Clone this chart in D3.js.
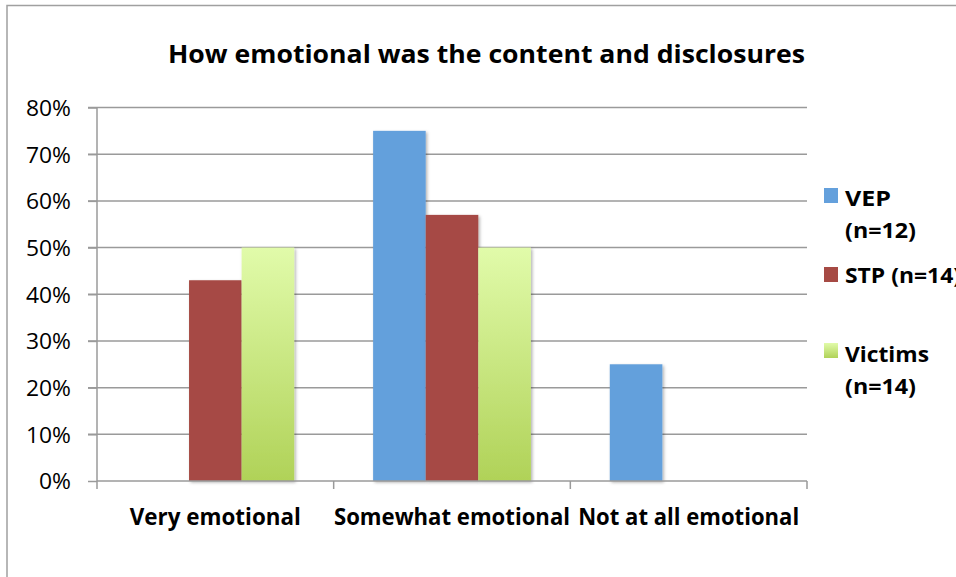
<!DOCTYPE html>
<html><head><meta charset="utf-8">
<script src="https://cdn.jsdelivr.net/npm/d3@7/dist/d3.min.js"></script>
<style>body{margin:0;background:#fff}svg{display:block}</style>
</head><body>
<svg id="c" width="956" height="577"></svg>
<script>
const categories = ["Very emotional", "Somewhat emotional", "Not at all emotional"];
const seriesNames = ["VEP", "STP", "Victims"];
const legendLines = [["VEP", "(n=12)"], ["STP (n=14)"], ["Victims", "(n=14)"]];
const vep = [0, 75, 25];
const stp = [43, 57, 0];
const victims = [50, 50, 0];
const yTicks = [0, 10, 20, 30, 40, 50, 60, 70, 80];
const title = "How emotional was the content and disclosures";

const svg = d3.select("#c");
const font = "'Open Sans', sans-serif";
const L = 97, R = 807, T = 107.5, B = 481;

const defs = svg.append("defs");
const g = defs.append("linearGradient").attr("id","gv").attr("x1",0).attr("y1",0).attr("x2",0).attr("y2",1);
g.append("stop").attr("offset","0%").attr("stop-color","#e1fbaa");
g.append("stop").attr("offset","100%").attr("stop-color","#b0d258");
const f = defs.append("filter").attr("id","sh").attr("x","-10%").attr("y","-10%").attr("width","130%").attr("height","120%");
f.append("feDropShadow").attr("dx",1.5).attr("dy",1.5).attr("stdDeviation",1.5).attr("flood-color","#000").attr("flood-opacity",0.3);

// chart border
svg.append("rect").attr("x",7).attr("y",5.5).attr("width",1000).attr("height",1000)
  .attr("fill","none").attr("stroke","#a0a0a0").attr("stroke-width",1.5);

const x = d3.scaleBand().domain(categories).range([L, R]).paddingInner(0).paddingOuter(0);
const y = d3.scaleLinear().domain([0, 80]).range([B, T]);

// gridlines
svg.append("g").selectAll("line").data(yTicks.filter(d => d > 0)).join("line")
  .attr("x1", L - 9).attr("x2", R).attr("y1", d => y(d)).attr("y2", d => y(d))
  .attr("stroke","#9a9a9a").attr("stroke-width",1.5);

// bars
const inner = d3.scaleBand().domain(seriesNames).range([0, x.bandwidth()]).paddingOuter(0.75).paddingInner(0);
const colors = {VEP:"#64a0dc", STP:"#a64a44", Victims:"url(#gv)"};
const data = {VEP: vep, STP: stp, Victims: victims};
const bars = [];
categories.forEach((c, i) => seriesNames.forEach(s => { if (data[s][i] > 0) bars.push({c, s, v: data[s][i]}); }));
svg.append("g").selectAll("rect").data(bars).join("rect")
  .attr("x", d => x(d.c) + inner(d.s)).attr("width", inner.bandwidth())
  .attr("y", d => y(d.v)).attr("height", d => y(0) - y(d.v))
  .attr("fill", d => colors[d.s]).attr("filter","url(#sh)");

// y axis
const ya = svg.append("g").attr("transform",`translate(${L},0)`)
  .call(d3.axisLeft(y).tickValues(yTicks).tickSize(9).tickPadding(17).tickFormat(d => d + "%"));
ya.select(".domain").attr("stroke","#9a9a9a").attr("stroke-width",1.5).attr("d",`M0,${T}V${B}`);
ya.selectAll(".tick line").attr("stroke","#9a9a9a").attr("stroke-width",1.5);
ya.selectAll(".tick text").attr("font-family",font).attr("font-size",22).attr("fill","#000")
  .attr("dy","0.36em").attr("textLength",function(){return this.textContent.length===2?32:45;})
  .attr("lengthAdjust","spacingAndGlyphs");

// x axis
const xa = svg.append("g").attr("transform",`translate(0,${B})`);
xa.append("line").attr("x1",L).attr("x2",R).attr("stroke","#9a9a9a").attr("stroke-width",1.5);
xa.selectAll(".tk").data(categories.concat([null])).join("line")
  .attr("x1",(d,i)=> i < categories.length ? x(d) : R).attr("x2",(d,i)=> i < categories.length ? x(d) : R)
  .attr("y1",0).attr("y2",8).attr("stroke","#9a9a9a").attr("stroke-width",1.5);
const labelW = [171, 236, 221];
xa.selectAll("text").data(categories).join("text")
  .attr("x", d => x(d) + x.bandwidth()/2).attr("y", 44).attr("text-anchor","middle")
  .attr("font-family",font).attr("font-weight","bold").attr("font-size",22.5)
  .attr("textLength",(d,i)=>labelW[i]).attr("lengthAdjust","spacingAndGlyphs")
  .text(d => d);

// title
svg.append("text").attr("x",486.5).attr("y",63).attr("text-anchor","middle")
  .attr("font-family",font).attr("font-weight","bold").attr("font-size",25.5)
  .attr("textLength",637).attr("lengthAdjust","spacingAndGlyphs").text(title);

// legend
const legY = [188, 267, 343];
const legBase = [[206, 238], [283], [362, 394]];
const legW = [[46, 71], [116], [84, 71]];
const lg = svg.append("g");
seriesNames.forEach((s, i) => {
  lg.append("rect").attr("x",824).attr("y",legY[i]).attr("width",14).attr("height",15).attr("fill",colors[s]);
  legendLines[i].forEach((t, j) => {
    lg.append("text").attr("x",845).attr("y",legBase[i][j])
      .attr("font-family",font).attr("font-weight","bold").attr("font-size",22)
      .attr("textLength",legW[i][j]).attr("lengthAdjust","spacingAndGlyphs").text(t);
  });
});
</script>
</body></html>
